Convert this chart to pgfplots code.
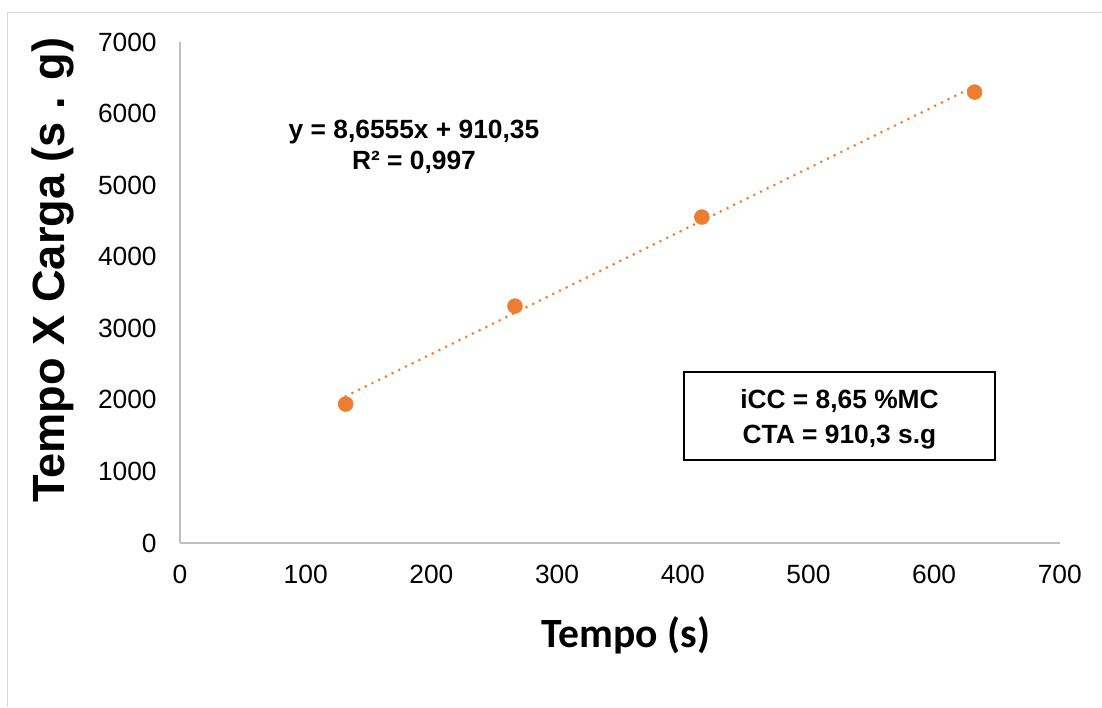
\documentclass[border=0pt]{standalone}
\usepackage{fontspec}
\setmainfont{Liberation Sans}
\newfontfamily\calibri{Carlito}
\usepackage{pgfplots}
\pgfplotsset{compat=1.18}
\definecolor{orng}{HTML}{ED7D31}
\definecolor{axgray}{HTML}{BFBFBF}
\definecolor{frgray}{HTML}{D9D9D9}
\begin{document}
\begin{tikzpicture}[x=0.02cm,y=-0.02cm]
\useasboundingbox (0,0) rectangle (1102,707);
\draw[frgray, line width=0.6pt] (7.5,707) -- (7.5,12.5) -- (1102,12.5);
\coordinate (O) at (180,543);
\begin{axis}[at={(O)}, anchor=south west, scale only axis,
  width=17.6cm, height=10.02cm,
  xmin=0, xmax=700, ymin=0, ymax=7000,
  xtick={0,100,...,700}, ytick={0,1000,...,7000},
  axis x line=bottom, axis y line=left,
  axis line style={-, draw=axgray, line width=0.8pt},
  major tick length=0pt, tick style={draw=none},
  ticklabel style={font=\fontsize{15}{18}\selectfont},
  /pgf/number format/assume math mode=true,
  /pgf/number format/1000 sep={},
  yticklabel style={anchor=east, inner sep=0pt, xshift=-0.46cm},
  xticklabel style={anchor=north, inner sep=0pt, yshift=-0.44cm},
  clip=false,
]
\addplot[orng, line width=1.7pt, line cap=round, dash pattern=on 0pt off 4.25pt] coordinates {(131.8,2051) (632.2,6382)};
\addplot[only marks, mark=*, mark size=4.2pt, mark options={draw=orng, fill=orng}] coordinates {(131.8,1942) (266.5,3311) (415.2,4555) (632.2,6302)};
\end{axis}
\node[font=\bfseries\fontsize{25.7}{30}\selectfont, rotate=90] at (53,270) {Tempo X Carga (s . g)};
\node[font=\calibri\bfseries\fontsize{23.7}{28}\selectfont] at (626,635) {Tempo (s)};
\node[font=\bfseries\fontsize{15}{17.6}\selectfont, align=center] at (414,147) {y = 8,6555x + 910,35\\R² = 0,997};
\draw[line width=1.1pt] (684,372) rectangle (995,460);
\node[font=\bfseries\fontsize{15}{19.9}\selectfont, align=center] at (839.5,419) {iCC = 8,65 \%MC\\CTA = 910,3 s.g};
\end{tikzpicture}
\end{document}
